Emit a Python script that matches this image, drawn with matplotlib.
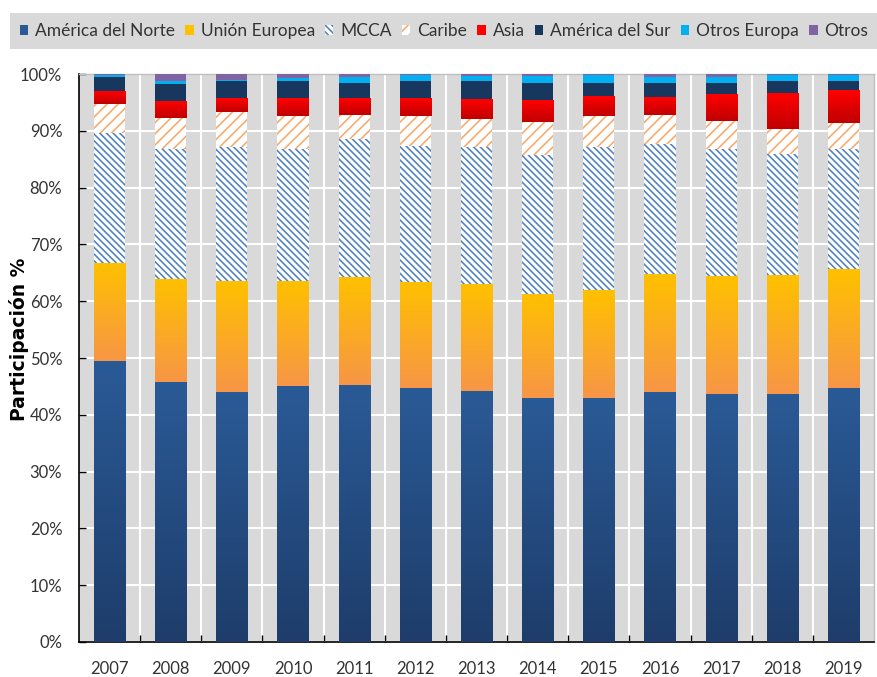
import numpy as np
import matplotlib
matplotlib.use("Agg")
import matplotlib.pyplot as plt
from matplotlib.patches import Patch
from matplotlib.colors import LinearSegmentedColormap

plt.rcParams['font.family'] = ['Lato', 'DejaVu Sans']
plt.rcParams['hatch.linewidth'] = 1.15

years = ['2007', '2008', '2009', '2010', '2011', '2012', '2013',
         '2014', '2015', '2016', '2017', '2018', '2019']

america_norte = [49.4, 45.8, 44.0, 45.0, 45.3, 44.8, 44.25, 43.0, 43.0, 44.0, 43.7, 43.7, 44.8]
union_europea = [17.1, 18.05, 19.4, 18.4, 18.85, 18.6, 18.75, 18.3, 19.0, 20.6, 20.7, 20.9, 20.9]
mcca = [23.2, 23.0, 23.7, 23.45, 24.45, 23.9, 24.1, 24.4, 25.1, 23.0, 22.4, 21.4, 21.15]
caribe = [5.0, 5.4, 6.2, 5.7, 4.2, 5.25, 4.9, 5.8, 5.45, 5.2, 4.9, 4.4, 4.45]
asia = [2.25, 2.95, 2.35, 3.1, 2.85, 3.1, 3.35, 3.85, 3.35, 3.1, 4.65, 6.25, 5.65]
america_sur = [2.5, 3.05, 3.05, 3.15, 2.75, 3.05, 3.45, 3.05, 2.5, 2.5, 2.05, 2.05, 1.75]
otros_europa = [0.4, 0.45, 0.3, 0.5, 1.05, 1.05, 0.8, 1.2, 1.35, 1.05, 1.05, 1.05, 1.05]
otros = [0.15, 1.3, 1.0, 0.7, 0.55, 0.25, 0.4, 0.4, 0.25, 0.55, 0.55, 0.25, 0.25]

labels = ['América del Norte', 'Unión Europea', 'MCCA', 'Caribe', 'Asia',
          'América del Sur', 'Otros Europa', 'Otros']
series = [america_norte, union_europea, mcca, caribe, asia, america_sur, otros_europa, otros]

# style: (facecolor, hatchcolor, hatch, gradient (top,bottom))
styles = [
    ('#27568F', None, None, ('#2A5A96', '#1E3D6B')),
    ('#FFC000', None, None, ('#FFC000', '#F79646')),
    ('white', '#4F81BD', '\\\\\\\\\\', None),
    ('white', '#F7A96A', '///', None),
    ('#FF0000', None, None, ('#FF0000', '#C00000')),
    ('#17375E', None, None, None),
    ('#00B0F0', None, None, None),
    ('#8064A2', None, None, None),
]

W, H = 878, 677
fig = plt.figure(figsize=(W / 100, H / 100), dpi=100)
ax = fig.add_axes([79 / W, 1 - 642 / H, (874 - 79) / W, (642 - 74) / H])
ax.set_facecolor('#D9D9D9')

x = np.arange(len(years))
bottom = np.zeros(len(years))
bar_w = 0.51
for vals, (fc, hc, hatch, grad) in zip(series, styles):
    vals = np.array(vals)
    if hatch:
        bars = ax.bar(x, vals, bar_w, bottom=bottom, facecolor=fc, edgecolor=hc,
                      hatch=hatch, linewidth=0, zorder=3)
    else:
        bars = ax.bar(x, vals, bar_w, bottom=bottom, color=fc, linewidth=0, zorder=3)
    if grad:
        cmap = LinearSegmentedColormap.from_list('g', [grad[1], grad[0]])
        for b in bars:
            bx, by, bw, bh = b.get_x(), b.get_y(), b.get_width(), b.get_height()
            ax.imshow(np.linspace(0, 1, 64).reshape(-1, 1), extent=[bx, bx + bw, by, by + bh],
                      origin='lower', cmap=cmap, aspect='auto', zorder=3.5,
                      interpolation='bilinear')
    bottom += vals

ax.set_xlim(-0.5, len(years) - 0.5)
ax.set_ylim(0, 100)
ax.set_aspect('auto')

# grid
ax.set_yticks(np.arange(0, 101, 10))
ax.set_yticklabels([f'{v}%' for v in range(0, 101, 10)])
ax.set_xticks(x)
ax.set_xticklabels(years)
ax.set_xticks(np.arange(0.5, len(years) - 0.5, 1), minor=True)
ax.yaxis.grid(True, color='white', linewidth=1.5, zorder=1)
ax.xaxis.grid(True, which='minor', color='white', linewidth=1.5, zorder=1)
ax.set_axisbelow(True)

ax.tick_params(axis='y', direction='in', length=5, width=1, pad=12, labelsize=12,
               labelcolor='#333333', color='black')
ax.tick_params(axis='x', which='major', length=0, pad=14, labelsize=12, labelcolor='#333333')
ax.tick_params(axis='x', which='minor', direction='in', length=5, width=1, color='black')

for s in ['left', 'bottom']:
    ax.spines[s].set_color('black')
    ax.spines[s].set_linewidth(1.2)
for s in ['top', 'right']:
    ax.spines[s].set_color('#BFBFBF')
    ax.spines[s].set_linewidth(1.0)

fig.text(19 / W, 1 - 339 / H, 'Participación %', rotation=90, ha='center', va='center',
         fontsize=13.5, fontweight='bold', color='black', family=['DejaVu Sans'])

# legend
handles = []
for (fc, hc, hatch, grad) in styles:
    if hatch:
        handles.append(Patch(facecolor=fc, edgecolor=hc, hatch=hatch, linewidth=0))
    else:
        handles.append(Patch(facecolor=grad[0] if grad else fc, linewidth=0))
leg = fig.legend(handles, labels, loc='center', ncol=8, mode='expand',
                 bbox_to_anchor=(10 / W, 1 - 50 / H, (W - 10) / W, 38 / H),
                 frameon=True, facecolor='#D9D9D9', edgecolor='none', fancybox=False,
                 handlelength=0.5, handleheight=0.5, handletextpad=0.4,
                 borderaxespad=0, borderpad=0.55, fontsize=12.5, columnspacing=0.5)
leg.get_frame().set_alpha(1)
for t in leg.get_texts():
    t.set_color('#333333')

fig.savefig('out.png', dpi=100)
